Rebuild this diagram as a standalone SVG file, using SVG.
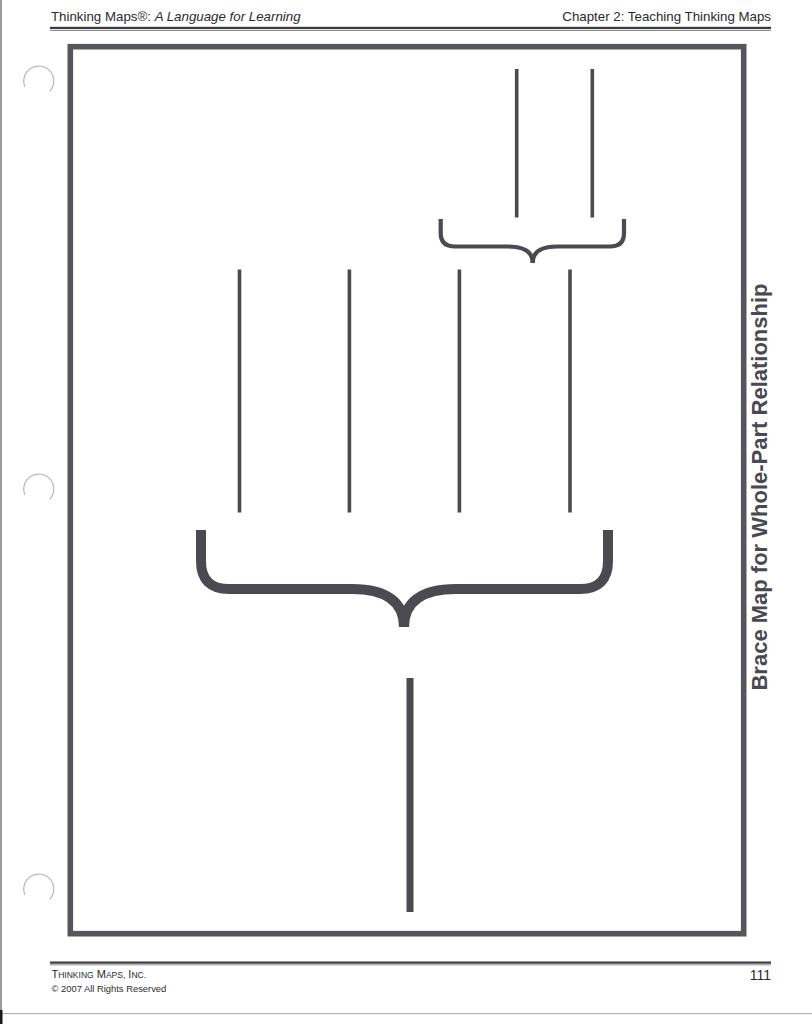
<svg xmlns="http://www.w3.org/2000/svg" width="812" height="1024" viewBox="0 0 812 1024">
  <style>
    .hdr { font-family: "Liberation Sans", Arial, sans-serif; font-size: 13.3px; fill: #2a2a2e; }
    .ftr { font-family: "Liberation Sans", Arial, sans-serif; fill: #2a2a2e; }
    .title { font-family: "Liberation Sans", Arial, sans-serif; font-size: 22px; font-weight: bold; fill: #4a4950; }
    .line { stroke: #4b4a51; stroke-width: 3.6; fill: none; stroke-linecap: butt; }
    .brace-s { stroke: #4b4a51; stroke-width: 4.2; fill: none; stroke-linecap: butt; stroke-linejoin: round; }
    .brace-l { stroke: #4b4a51; stroke-width: 10; fill: none; stroke-linecap: butt; stroke-linejoin: round; }
    .hole { stroke: #b8b8bc; stroke-width: 1.2; fill: none; }
  </style>
  <rect x="0" y="0" width="812" height="1024" fill="#ffffff"/>

  <g id="page-edges">
    <rect x="0" y="0" width="2" height="1012" fill="#9a9aa0"/>
    <rect x="0" y="1013" width="812" height="1.2" fill="#b4b4b8"/>
    <rect x="0" y="1010" width="2.5" height="14" fill="#1a1a1a"/>
    <path class="hole" d="M25,87 A15,15 0 1 1 50,91"/>
    <path class="hole" d="M25,495 A15,15 0 1 1 50,499"/>
    <path class="hole" d="M25,895 A15,15 0 1 1 50,899"/>
  </g>

  <g id="header">
    <text class="hdr" x="51" y="21">Thinking Maps®: <tspan font-style="italic">A Language for Learning</tspan></text>
    <text class="hdr" x="771" y="21" text-anchor="end">Chapter 2: Teaching Thinking Maps</text>
    <rect x="50" y="26.8" width="721" height="2.2" fill="#3c3b40"/>
    <rect x="50" y="29.8" width="721" height="1.2" fill="#8a898e"/>
  </g>

  <g id="frame">
    <rect x="70.3" y="46.7" width="673.4" height="887" fill="none" stroke="#57555c" stroke-width="5.6"/>
  </g>

  <g id="title">
    <text class="title" transform="translate(766.5,487) rotate(-90)" text-anchor="middle">Brace Map for Whole-Part Relationship</text>
  </g>

  <g id="brace-small">
    <path class="brace-s" d="M440.7,219 V233 Q440.7,246.5 455,246.5 H508 C524,246.5 532.7,252 532.7,263"/>
    <path class="brace-s" d="M624,219 V233 Q624,246.5 610,246.5 H557 C541,246.5 532.7,252 532.7,263"/>
  </g>

  <g id="brace-large">
    <path class="brace-l" d="M201,530 V561 Q201,589 229,589 H352 C388,589 404,603 404,627"/>
    <path class="brace-l" d="M608,530 V561 Q608,589 580,589 H456 C420,589 404,603 404,627"/>
  </g>

  <g id="connectors">
    <line class="line" x1="516.7" y1="69" x2="516.7" y2="217.5"/>
    <line class="line" x1="592.3" y1="69" x2="592.3" y2="217.5"/>
    <line class="line" x1="239.5" y1="269.5" x2="239.5" y2="512.5"/>
    <line class="line" x1="349.4" y1="269.5" x2="349.4" y2="512.5"/>
    <line class="line" x1="459.4" y1="269.5" x2="459.4" y2="512.5"/>
    <line class="line" x1="570" y1="269.5" x2="570" y2="512.5"/>
    <line x1="410" y1="678" x2="410" y2="912" stroke="#4b4a51" stroke-width="7"/>
  </g>

  <g id="footer">
    <rect x="50" y="961.5" width="721" height="2.2" fill="#3c3b40"/>
    <rect x="50" y="964.3" width="721" height="1" fill="#8a898e"/>
    <text class="ftr" x="51.5" y="978" font-size="11">T<tspan font-size="8.5">HINKING</tspan> M<tspan font-size="8.5">APS,</tspan> I<tspan font-size="8.5">NC.</tspan></text>
    <text class="ftr" x="51.5" y="991.5" font-size="9.4">© 2007 All Rights Reserved</text>
    <text class="ftr" x="771" y="980" font-size="14" text-anchor="end">111</text>
  </g>
</svg>
